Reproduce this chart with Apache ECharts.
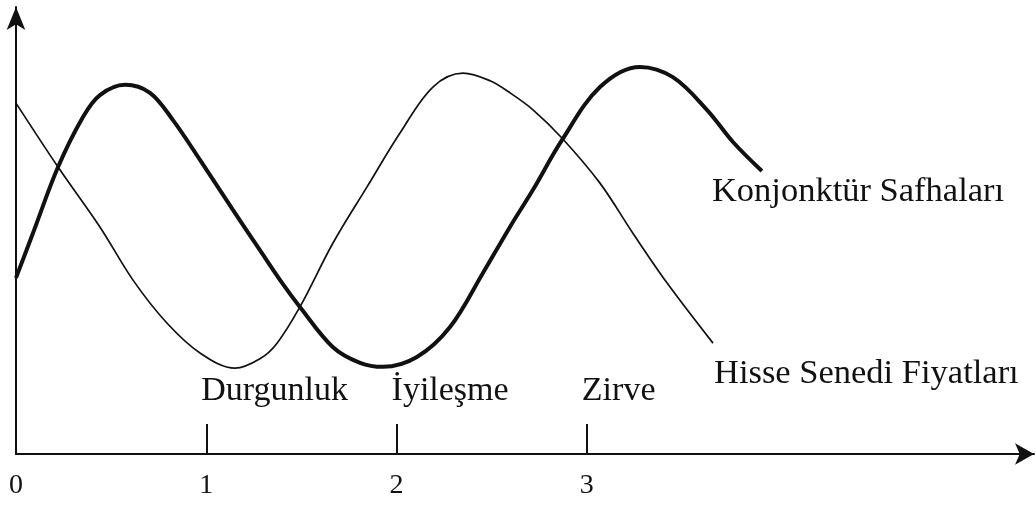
<!DOCTYPE html>
<html>
<head>
<meta charset="utf-8">
<script src="https://cdn.jsdelivr.net/npm/echarts@6/dist/echarts.min.js"></script>
<style>
  html, body { margin: 0; padding: 0; background: #fff; }
  #chart { width: 1036px; height: 505px; }
</style>
</head>
<body>
<div id="chart"></div>
<script>
// Konjonktür safhaları ile hisse senedi fiyatları (şematik)
// x: zaman (safha birimi), y: göreli seviye

var cycleName = "Konjonktür Safhaları";
var cycleData = [
  [0, 39.4], [0.089, 49.4], [0.221, 64.2], [0.352, 75.4], [0.441, 80.3],
  [0.573, 82.6], [0.704, 80.8], [0.825, 74.7], [0.967, 65.8], [1.14, 54.6],
  [1.282, 45.6], [1.403, 38.0], [1.492, 32.9], [1.666, 23.9], [1.808, 20.4],
  [1.929, 19.5], [2.107, 21.7], [2.281, 28.4], [2.454, 40.5], [2.596, 50.8],
  [2.717, 59.1], [2.869, 70.2], [3.069, 82.1], [3.279, 86.6], [3.452, 84.3],
  [3.631, 77.0], [3.768, 69.8], [3.92, 63.3]
];

var stockName = "Hisse Senedi Fiyatları";
var stockData = [
  [0, 78.5], [0.221, 64.2], [0.441, 50.8], [0.615, 38.9], [0.793, 29.3],
  [0.967, 22.6], [1.151, 19.2], [1.282, 21.3], [1.372, 24.8], [1.492, 32.9],
  [1.666, 47.2], [1.844, 59.7], [2.018, 71.8], [2.191, 82.1], [2.349, 85.2],
  [2.491, 83.5], [2.596, 80.8], [2.717, 77.0], [2.869, 70.7], [3.069, 60.6],
  [3.242, 49.4], [3.421, 38.3], [3.663, 24.8]
];

var phaseNames = ["Durgunluk", "İyileşme", "Zirve"];
var phaseTicks = [1, 2, 3];
var tickLabels = [0, 1, 2, 3];

var ink = "#111";
var serif = "Liberation Serif";

var chart = echarts.init(document.getElementById("chart"));

chart.setOption({
  animation: false,
  backgroundColor: "#fff",
  grid: { left: 16, right: 2, top: 7, bottom: 51 },
  xAxis: {
    type: "value",
    min: 0,
    max: 5.35,
    interval: 1,
    splitLine: { show: false },
    axisLine: {
      show: true,
      symbol: ["none", "arrow"],
      symbolSize: [16, 19],
      lineStyle: { color: ink, width: 2 }
    },
    axisTick: {
      show: true,
      inside: true,
      length: 30,
      customValues: phaseTicks,
      lineStyle: { color: ink, width: 2 }
    },
    axisLabel: {
      show: true,
      customValues: tickLabels,
      margin: 18,
      color: ink,
      fontFamily: serif,
      fontSize: 28
    }
  },
  yAxis: {
    type: "value",
    min: 0,
    max: 100,
    splitLine: { show: false },
    axisLine: {
      show: true,
      symbol: ["none", "arrow"],
      symbolSize: [14, 23],
      lineStyle: { color: ink, width: 2 }
    },
    axisTick: { show: false },
    axisLabel: { show: false }
  },
  series: [
    {
      name: cycleName,
      type: "line",
      data: cycleData,
      smooth: 0.35,
      symbol: "none",
      lineStyle: { color: ink, width: 4 },
      endLabel: {
        show: true,
        formatter: cycleName,
        color: ink,
        fontFamily: serif,
        fontSize: 34.5,
        offset: [-58, 21]
      }
    },
    {
      name: stockName,
      type: "line",
      data: stockData,
      smooth: 0.35,
      symbol: "none",
      lineStyle: { color: ink, width: 1.7 },
      endLabel: {
        show: true,
        formatter: stockName,
        color: ink,
        fontFamily: serif,
        fontSize: 34.5,
        offset: [-7, 31]
      }
    },
    {
      name: "safhalar",
      type: "scatter",
      symbolSize: 0,
      itemStyle: { opacity: 1 },
      data: phaseTicks.map(function (t, i) {
        return { value: [t, 0], name: phaseNames[i] };
      }),
      label: {
        show: true,
        position: [0, 0],
        align: "left",
        verticalAlign: "middle",
        offset: [-5, -63],
        formatter: "{b}",
        color: ink,
        opacity: 1,
        fontFamily: serif,
        fontSize: 34
      }
    }
  ]
});
</script>
</body>
</html>
